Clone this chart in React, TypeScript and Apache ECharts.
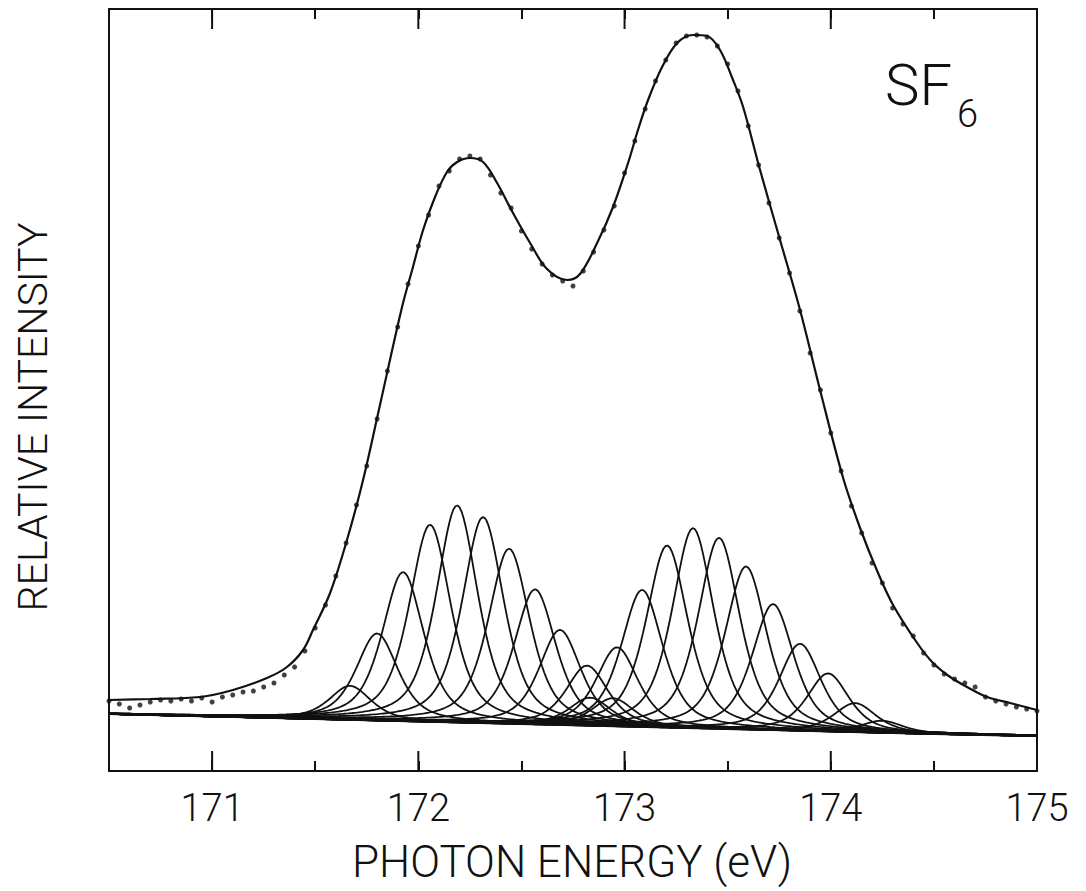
import React, { useEffect, useRef } from "react";
import * as echarts from "echarts";

// ---- axis / tick data ----
const xMin = 170.5;
const xMax = 175;
const majorTicks = [171, 172, 173, 174];
const yMax = 762;

// ---- fitted envelope (photon energy eV, relative intensity) ----
const fitX = [170.5, 170.699, 170.941, 171.101, 171.266, 171.363, 171.441, 171.489, 171.572, 171.654, 171.732, 171.814, 171.921, 171.974, 172.023, 172.081, 172.139, 172.188, 172.251, 172.314, 172.382, 172.459, 172.542, 172.624, 172.721, 172.784, 172.867, 172.944, 173.017, 173.065, 173.114, 173.182, 173.255, 173.332, 173.4, 173.463, 173.526, 173.575, 173.657, 173.754, 173.851, 173.948, 174.06, 174.142, 174.225, 174.302, 174.419, 174.496, 174.579, 174.661, 174.758, 174.87, 175.0];
const fitY = [71, 72, 74, 81, 93, 104, 121, 141, 178, 231, 291, 366, 464, 504, 541, 574, 599, 609, 613, 609, 588, 558, 528, 502, 491, 497, 528, 564, 608, 641, 671, 704, 728, 736, 735, 721, 691, 664, 601, 531, 461, 381, 293, 243, 200, 166, 128, 108, 94, 84, 74, 68, 61];

// ---- measured points (every 0.05 eV from 170.5) ----
const dotStart = 170.5;
const dotStep = 0.05;
const dotY = [70, 67, 63, 66, 69, 71, 70, 72, 70, 73, 69, 74, 76, 79, 80, 84, 88, 96, 104, 120, 143, 166, 195, 228, 266, 305, 352, 400, 444, 487, 525, 556, 585, 600, 612, 615, 612, 596, 578, 563, 540, 522, 507, 496, 490, 485, 500, 519, 541, 565, 598, 630, 662, 690, 711, 728, 735, 736, 734, 725, 707, 680, 645, 606, 568, 533, 498, 460, 418, 381, 338, 300, 265, 238, 208, 188, 163, 147, 135, 118, 106, 97, 92, 88, 84, 74, 70, 67, 64, 62, 60];

// ---- background line ----
const bgX = [170.5, 171.0, 171.5, 172.0, 172.5, 173.0, 173.5, 174.0, 174.5, 175.0];
const bgY = [57, 54.5, 52, 49.5, 47, 44.5, 42, 39.5, 37, 35];

// ---- vibrational components (centre eV, peak height above background) ----
const prog1Center = [171.669, 171.8, 171.926, 172.057, 172.188, 172.314, 172.44, 172.566, 172.687, 172.818, 172.944];
const prog1Height = [34, 87, 149, 197, 217, 206, 175, 135, 95, 60, 28];
const prog2Center = [172.833, 172.964, 173.085, 173.206, 173.332, 173.458, 173.589, 173.72, 173.851, 173.987, 174.118, 174.249];
const prog2Height = [28, 79, 137, 182, 200, 191, 163, 126, 87, 58, 29, 12];
const componentFWHM = 0.24;
const lorentzFraction = 0.6;

const INK = "#111";
const FONT = "Roboto";

function bgAt(x: number): number {
  for (let i = 0; i < bgX.length - 1; i++) {
    if (x <= bgX[i + 1]) {
      const t = (x - bgX[i]) / (bgX[i + 1] - bgX[i]);
      return bgY[i] + t * (bgY[i + 1] - bgY[i]);
    }
  }
  return bgY[bgY.length - 1];
}

function profile(d: number): number {
  const t = (2 * d / componentFWHM) ** 2;
  return lorentzFraction / (1 + t) + (1 - lorentzFraction) * Math.exp(-Math.LN2 * t);
}

function componentSeries(center: number, height: number) {
  const pts: number[][] = [];
  for (let i = 0; i <= 450; i++) {
    const x = xMin + i * 0.01;
    pts.push([x, bgAt(x) + height * profile(x - center)]);
  }
  return {
    type: "line",
    data: pts,
    showSymbol: false,
    silent: true,
    lineStyle: { color: INK, width: 1.8 },
    z: 2,
  };
}

export default function App() {
  const ref = useRef<HTMLDivElement>(null);
  useEffect(() => {
    if (!ref.current) return;
    const chart = echarts.init(ref.current, null, { renderer: "svg" });
    const comps = [
      ...prog1Center.map((c, i) => componentSeries(c, prog1Height[i])),
      ...prog2Center.map((c, i) => componentSeries(c, prog2Height[i])),
    ];
    const axisBase = {
      type: "value",
      min: xMin,
      max: xMax,
      interval: 0.5,
      axisLine: { show: true, onZero: false, lineStyle: { color: INK, width: 2 } },
      axisTick: { show: true, inside: true, length: 10, lineStyle: { color: INK, width: 2 } },
      splitLine: { show: false },
    };
    chart.setOption({
      animation: false,
      backgroundColor: "#fff",
      grid: { left: 109, right: 49, top: 9, bottom: 120 },
      xAxis: [
        {
          ...axisBase,
          position: "bottom",
          axisLabel: {
            show: true,
            margin: 18,
            color: INK,
            fontFamily: FONT,
            fontWeight: 300,
            fontSize: 38,
            formatter: (v: number) => (Number.isInteger(v) ? String(v) : ""),
          },
        },
        { ...axisBase, position: "top", axisLabel: { show: false } },
      ],
      yAxis: [
        {
          type: "value",
          min: 0,
          max: yMax,
          position: "left",
          axisLine: { show: true, onZero: false, lineStyle: { color: INK, width: 2 } },
          axisTick: { show: false },
          axisLabel: { show: false },
          splitLine: { show: false },
        },
        {
          type: "value",
          min: 0,
          max: yMax,
          position: "right",
          axisLine: { show: true, onZero: false, lineStyle: { color: INK, width: 2 } },
          axisTick: { show: false },
          axisLabel: { show: false },
          splitLine: { show: false },
        },
      ],
      series: [
        {
          type: "line",
          data: bgX.map((x, i) => [x, bgY[i]]),
          showSymbol: false,
          silent: true,
          lineStyle: { color: INK, width: 2 },
          z: 3,
        },
        ...comps,
        {
          type: "line",
          data: fitX.map((x, i) => [x, fitY[i]]),
          smooth: 0.35,
          showSymbol: false,
          silent: true,
          lineStyle: { color: INK, width: 2.2 },
          z: 4,
        },
        {
          type: "scatter",
          data: dotY.map((y, i) => [dotStart + i * dotStep, y]),
          symbol: "circle",
          symbolSize: 5,
          itemStyle: { color: INK },
          silent: true,
          z: 5,
        },
        {
          type: "custom",
          data: majorTicks.map((t) => [t, 0]),
          clip: false,
          silent: true,
          z: 6,
          renderItem: (params: any, api: any) => {
            const x = api.value(0);
            const pb = api.coord([x, 0]);
            const pt = api.coord([x, yMax]);
            return {
              type: "group",
              children: [
                { type: "line", shape: { x1: pb[0], y1: pb[1], x2: pb[0], y2: pb[1] - 20 }, style: { stroke: INK, lineWidth: 2 } },
                { type: "line", shape: { x1: pt[0], y1: pt[1], x2: pt[0], y2: pt[1] + 20 }, style: { stroke: INK, lineWidth: 2 } },
              ],
            };
          },
        },
      ],
      graphic: [
        {
          type: "text",
          x: 572,
          y: 862,
          style: { text: "PHOTON ENERGY (eV)", fill: INK, font: `300 44px ${FONT}`, textAlign: "center", textVerticalAlign: "middle" },
        },
        {
          type: "text",
          x: 33,
          y: 417,
          rotation: Math.PI / 2,
          style: { text: "RELATIVE INTENSITY", fill: INK, font: `300 41px ${FONT}`, textAlign: "center", textVerticalAlign: "middle" },
        },
        {
          type: "text",
          x: 885,
          y: 85,
          style: { text: "SF", fill: INK, font: `300 58px ${FONT}`, textAlign: "left", textVerticalAlign: "middle" },
        },
        {
          type: "text",
          x: 957,
          y: 114,
          style: { text: "6", fill: INK, font: `300 38px ${FONT}`, textAlign: "left", textVerticalAlign: "middle" },
        },
      ],
    });
    return () => chart.dispose();
  }, []);
  return <div ref={ref} style={{ position: "fixed", left: 0, top: 0, width: 1086, height: 891, background: "#fff" }} />;
}
